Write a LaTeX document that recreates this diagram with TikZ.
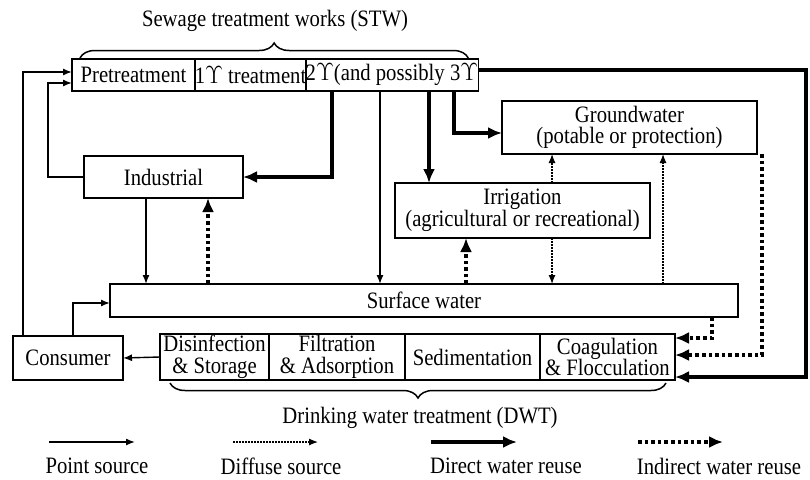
\documentclass[tikz,border=0pt]{standalone}
\usepackage{fontspec}
\setmainfont[FakeStretch=0.88]{Liberation Serif}
\usetikzlibrary{arrows.meta,calc,decorations.pathreplacing}
\newcommand{\ups}{\ensuremath{\Upsilon}}
\begin{document}
\begin{tikzpicture}[x=1pt,y=-1pt,
  cell/.style={draw, line width=1.5pt, inner sep=0pt, outer sep=0pt, align=center,
    font=\fontsize{23.5}{21.5}\selectfont},
  lbl/.style={inner sep=0pt, font=\fontsize{23.5}{21.5}\selectfont},
  point/.style={line width=1.4pt, -{Latex[length=9pt,width=7pt]}},
  diffuse/.style={line width=1.2pt, dash pattern=on 1.6pt off 1.4pt, -{Latex[length=9pt,width=7pt]}},
  direct/.style={line width=3.6pt, -{Latex[length=14pt,width=12pt]}},
  indirect/.style={line width=3.6pt, dash pattern=on 3.6pt off 3pt, -{Latex[length=14pt,width=12pt]}},
  bracel/.style={line width=1.5pt, decorate, decoration={brace, amplitude=15pt}}
]
\fill[white] (0,0) rectangle (810,479);
\useasboundingbox (0,0) rectangle (810,479);

% Sewage treatment works
\node[cell, minimum width=123pt, minimum height=32pt] (pre) at (133.5,75) {Pretreatment};
\node[cell, minimum width=111pt, minimum height=32pt] (one) at (250.5,75) {1\ups{} treatment};
\node[cell, minimum width=172pt, minimum height=32pt] (two) at (392,75) {2\ups(and possibly 3\ups};

% other boxes
\node[cell, minimum width=255pt, minimum height=53pt] (gw) at (629.5,127.5) {Groundwater\\(potable or protection)};
\node[cell, minimum width=159pt, minimum height=42pt] (ind) at (163.5,177) {Industrial};
\node[cell, minimum width=255pt, minimum height=55pt] (irr) at (522.5,210.5) {Irrigation\\(agricultural or recreational)};
\node[cell, minimum width=628pt, minimum height=33pt] (sw) at (424,300.5) {Surface water};
\node[cell, minimum width=110pt, minimum height=44pt] (cons) at (68,358) {Consumer};

% Drinking water treatment
\node[cell, minimum width=109pt, minimum height=46pt] (dis) at (214.5,357) {Disinfection\\\& Storage};
\node[cell, minimum width=136pt, minimum height=46pt] (fil) at (337,357) {Filtration\\\& Adsorption};
\node[cell, minimum width=135pt, minimum height=46pt] (sed) at (472.5,357) {Sedimentation};
\node[cell, minimum width=135pt, minimum height=46pt] (coa) at (607.5,357) {Coagulation\\\& Flocculation};

% braces and their labels
\draw[bracel] ([xshift=8pt,yshift=1pt]pre.north west) -- ([xshift=-10pt,yshift=1pt]two.north east);
\node[lbl] (stw) at (275,21) {Sewage treatment works (STW)};
\draw[bracel] ([xshift=-9pt,yshift=-3pt]coa.south east) -- ([xshift=10pt,yshift=-3pt]dis.south west);
\node[lbl] (dwt) at (420,418) {Drinking water treatment (DWT)};

% helper coordinates
\coordinate (x146) at (146,0);
\coordinate (x208) at (208,0);
\coordinate (x332) at (332,0);
\coordinate (x380) at (380,0);
\coordinate (x429) at (429,0);
\coordinate (x454) at (454,0);
\coordinate (x466) at (466,0);
\coordinate (x552) at (552,0);
\coordinate (x663) at (663,0);
\coordinate (x712) at (712,0);
\coordinate (x762) at (762,0);
\coordinate (x806) at (806,0);
\coordinate (c7) at ($(coa.east)+(0,20)$);

% point source connectors
\draw[point] ([xshift=-45pt]cons.north) |- ([yshift=3pt]pre.west);
\draw[point] (ind.west) -| ([xshift=-24pt,yshift=-8pt]pre.west) -- ([yshift=-8pt]pre.west);
\draw[point] (x380 |- two.south) -- (x380 |- sw.north);
\draw[point] (x146 |- ind.south) -- (x146 |- sw.north);
\draw[point] (dis.west) -- (cons.east);
\draw[point] ([xshift=5pt]cons.north) |- ([yshift=-2.5pt]sw.west);

% direct reuse
\draw[direct] (x332 |- two.south) |- (ind.east);
\draw[direct] (x429 |- two.south) -- (x429 |- irr.north);
\draw[direct] (x454 |- two.south) |- ([yshift=-5.5pt]gw.west);
\draw[direct] ([yshift=5pt]two.east) -| (c7 -| x806) -- (c7);

% indirect reuse
\draw[indirect] (x208 |- sw.north) -- (x208 |- ind.south);
\draw[indirect] (x466 |- sw.north) -- (x466 |- irr.south);
\draw[indirect] (x762 |- gw.south) |- ([yshift=2pt]coa.east);
\draw[indirect] (x712 |- sw.south) |- ([yshift=19pt]coa.east);

% diffuse
\draw[diffuse] (x552 |- irr.north) -- (x552 |- gw.south);
\draw[diffuse] (x552 |- irr.south) -- (x552 |- sw.north);
\draw[diffuse] (x663 |- sw.north) -- (x663 |- gw.south);

% legend
\coordinate (l1a) at (49,442); \coordinate (l1b) at (135,442);
\coordinate (l2a) at (233,442); \coordinate (l2b) at (318,442);
\coordinate (l3a) at (431,442); \coordinate (l3b) at (517,442);
\coordinate (l4a) at (638,442); \coordinate (l4b) at (723,442);
\draw[point] (l1a) -- (l1b);
\draw[diffuse] (l2a) -- (l2b);
\draw[direct] (l3a) -- (l3b);
\draw[indirect] (l4a) -- (l4b);
\node[lbl] (t1) at (97,466) {Point source};
\node[lbl] (t2) at (281,466) {Diffuse source};
\node[lbl] (t3) at (506,466) {Direct water reuse};
\node[lbl] (t4) at (719,466) {Indirect water reuse};
\end{tikzpicture}
\end{document}
